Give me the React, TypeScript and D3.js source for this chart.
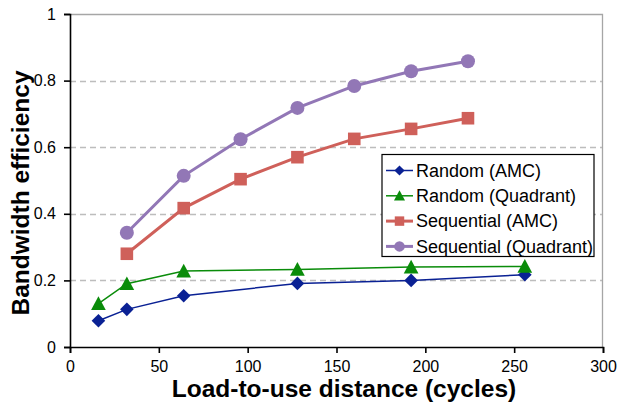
import React, { useEffect, useRef } from "react";
import * as d3 from "d3";

const randomX = [16, 32, 64, 128, 192, 256];
const sequentialX = [32, 64, 96, 128, 160, 192, 224];

const randomAmc = [0.079, 0.113, 0.154, 0.191, 0.2, 0.217];
const randomQuadrant = [0.13, 0.19, 0.228, 0.233, 0.24, 0.242];
const sequentialAmc = [0.28, 0.417, 0.504, 0.57, 0.625, 0.655, 0.687];
const sequentialQuadrant = [0.343, 0.514, 0.624, 0.718, 0.784, 0.828, 0.858];

const seriesNames = [
  "Random (AMC)",
  "Random (Quadrant)",
  "Sequential (AMC)",
  "Sequential (Quadrant)",
];

const xTicks = [0, 50, 100, 150, 200, 250, 300];
const yTicks = [0, 0.2, 0.4, 0.6, 0.8, 1];

const W = 620,
  H = 405;
const margin = { top: 14, right: 17, bottom: 58, left: 70 };
const width = W - margin.left - margin.right;
const height = H - margin.top - margin.bottom;

const x = d3.scaleLinear().domain([0, 300]).range([0, width]);
const y = d3.scaleLinear().domain([0, 1]).range([height, 0]);

const FONT = "Liberation Sans, Arial, sans-serif";

// marker shapes, s = half size
function markerPath(kind: string, s: number) {
  if (kind === "diamond") return `M0,${-s}L${s},0L0,${s}L${-s},0Z`;
  if (kind === "triangle")
    return `M0,${-s * 1.05}L${s * 1.05},${s * 0.9}L${-s * 1.05},${s * 0.9}Z`;
  if (kind === "square") return `M${-s},${-s}H${s}V${s}H${-s}Z`;
  return d3.arc()({
    innerRadius: 0,
    outerRadius: s,
    startAngle: 0,
    endAngle: 2 * Math.PI,
  }) as string;
}

export default function App() {
  const ref = useRef<SVGSVGElement>(null);

  useEffect(() => {
    const root = d3.select(ref.current);
    root.selectAll("*").remove();

    const series = [
      { name: seriesNames[0], xs: randomX, ys: randomAmc, color: "#0a2194", marker: "diamond", lw: 1.5, ms: 6.8 },
      { name: seriesNames[1], xs: randomX, ys: randomQuadrant, color: "#0a8c0a", marker: "triangle", lw: 1.5, ms: 7 },
      { name: seriesNames[2], xs: sequentialX, ys: sequentialAmc, color: "#cf605a", marker: "square", lw: 3, ms: 6.3 },
      { name: seriesNames[3], xs: sequentialX, ys: sequentialQuadrant, color: "#9277b6", marker: "circle", lw: 3, ms: 7 },
    ];

    root.append("rect").attr("width", W).attr("height", H).attr("fill", "#fff");

    const svg = root
      .append("g")
      .attr("transform", "translate(" + margin.left + "," + margin.top + ")");

    // gridlines
    svg
      .append("g")
      .selectAll("line")
      .data(yTicks.filter((t) => t > 0 && t < 1))
      .enter()
      .append("line")
      .attr("x1", 0)
      .attr("x2", width)
      .attr("y1", (d) => Math.round(y(d)) + 0.5)
      .attr("y2", (d) => Math.round(y(d)) + 0.5)
      .attr("stroke", "#bdbdbd")
      .attr("stroke-width", 1.3)
      .attr("stroke-dasharray", "6,4");

    // top and right border
    svg
      .append("path")
      .attr("d", `M0,0.5H${width - 0.5}V${height}`)
      .attr("fill", "none")
      .attr("stroke", "#a6a6a6")
      .attr("stroke-width", 1.3);

    // axes
    const xAxis = svg
      .append("g")
      .attr("transform", "translate(0," + height + ")")
      .call(d3.axisBottom(x).tickValues(xTicks).tickSize(6).tickPadding(8).tickFormat(d3.format("d")));
    const yAxis = svg
      .append("g")
      .call(d3.axisLeft(y).tickValues(yTicks).tickSize(6).tickPadding(8).tickFormat((d) => String(+d)));

    [xAxis, yAxis].forEach((a) => {
      a.select(".domain").attr("stroke", "#000").attr("stroke-width", 1.6);
      a.selectAll(".tick line").attr("stroke", "#000").attr("stroke-width", 1.6);
      a.selectAll(".tick text")
        .attr("fill", "#000")
        .style("font-family", FONT)
        .style("font-size", "16px");
    });

    // lines and markers
    series.forEach((s) => {
      const pts = s.xs.map((d, i) => [x(d), y(s.ys[i])] as [number, number]);
      svg
        .append("path")
        .datum(pts)
        .attr("fill", "none")
        .attr("stroke", s.color)
        .attr("stroke-width", s.lw)
        .attr("d", d3.line());
      svg
        .append("g")
        .selectAll("path")
        .data(pts)
        .enter()
        .append("path")
        .attr("transform", (d) => `translate(${d[0]},${d[1]})`)
        .attr("d", markerPath(s.marker, s.ms))
        .attr("fill", s.color);
    });

    // legend
    const lg = root.append("g").attr("transform", "translate(382,154.5)");
    lg.append("rect")
      .attr("width", 212)
      .attr("height", 102)
      .attr("fill", "#fff")
      .attr("stroke", "#000")
      .attr("stroke-width", 1.2);
    series.forEach((s, i) => {
      const row = lg.append("g").attr("transform", `translate(0,${16 + i * 25.3})`);
      row.append("line")
        .attr("x1", 4)
        .attr("x2", 31)
        .attr("stroke", s.color)
        .attr("stroke-width", s.lw);
      row.append("path")
        .attr("transform", "translate(17.5,0)")
        .attr("d", markerPath(s.marker, s.ms * 0.75))
        .attr("fill", s.color);
      row.append("text")
        .attr("x", 34)
        .attr("dy", "0.35em")
        .text(s.name)
        .style("font-family", FONT)
        .style("font-size", "18px")
        .style("fill", "#000");
    });

    // axis titles
    root.append("text")
      .attr("x", 344)
      .attr("y", 397)
      .text("Load-to-use distance (cycles)")
      .style("text-anchor", "middle")
      .style("font-family", FONT)
      .style("font-weight", "bold")
      .style("font-size", "24.5px");

    root.append("text")
      .attr("transform", "translate(29,193) rotate(-90)")
      .text("Bandwidth efficiency")
      .style("text-anchor", "middle")
      .style("font-family", FONT)
      .style("font-weight", "bold")
      .style("font-size", "24.5px");
  }, []);

  return (
    <svg
      ref={ref}
      width={W}
      height={H}
      style={{ position: "absolute", left: 0, top: 0, display: "block" }}
    />
  );
}
